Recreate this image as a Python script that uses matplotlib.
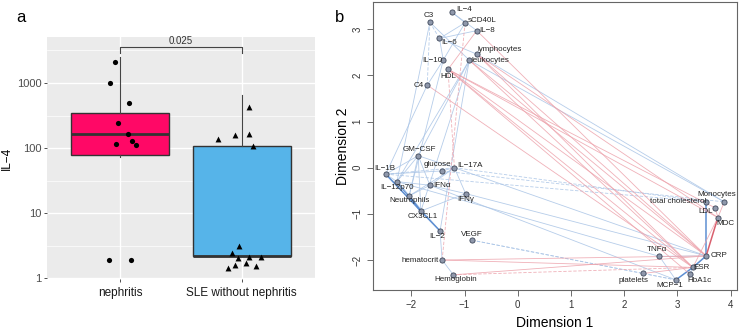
import numpy as np
import matplotlib.pyplot as plt

plt.rcParams['font.family'] = ['Liberation Sans', 'DejaVu Sans']

# ---- panel a: IL-4 box plot ----
groups = ['nephritis', 'SLE without nephritis']
neph_vals = [2128, 1014, 501, 242, 166, 118, 130, 111, 1.93, 1.93]
neph_jit = [-0.039, -0.082, 0.076, -0.016, 0.066, -0.035, 0.096, 0.129, -0.093, 0.093]
sle_vals = [136, 160, 430, 166, 107, 3.16, 2.44, 2.07, 2.17, 2.10, 1.62, 1.73, 1.46, 1.53]
sle_jit = [-0.192, -0.053, 0.062, 0.062, 0.095, -0.025, -0.082, -0.030, 0.060, 0.158,
           -0.055, 0.035, -0.110, 0.115]
box_q1 = [78, 2.22]
box_med = [168, 2.25]
box_q3 = [352, 110]
box_lo = [74, 2.22]
box_hi = [2476, 664]
box_cols = ['#FF0866', '#56B4E9']
p_value = '0.025'

# ---- panel b: MDS map of variables ----
var_names = ['IL-4', 'C3', 'sCD40L', 'IL-8', 'IL-6', 'lymphocytes', 'leukocytes', 'IL-10',
             'HDL', 'C4', 'GM-CSF', 'glucose', 'IL-17A', 'IL-1B', 'IL-12p70', 'IFNα',
             'Neutrophils', 'IFNγ', 'CX3CL1', 'IL-2', 'VEGF', 'hematocrit', 'Hemoglobin',
             'Monocytes', 'total cholesterol', 'LDL', 'MDC', 'CRP', 'TNFα', 'ESR', 'HbA1c',
             'platelets', 'MCP-1']
dim1 = [-1.24, -1.65, -0.99, -0.77, -1.47, -0.77, -0.91, -1.40, -1.31, -1.70, -1.87, -1.43,
        -1.19, -2.48, -2.27, -1.65, -2.04, -0.98, -1.82, -1.46, -0.86, -1.42, -1.21,
        3.88, 3.54, 3.71, 3.76, 3.54, 2.66, 3.29, 3.24, 2.36, 2.97]
dim2 = [3.37, 3.15, 3.14, 2.97, 2.80, 2.46, 2.33, 2.33, 2.13, 1.79, 0.26, -0.07,
        0.0, -0.14, -0.30, -0.38, -0.61, -0.56, -0.94, -1.37, -1.57, -2.00, -2.32,
        -0.74, -0.74, -0.87, -1.08, -1.91, -1.92, -2.16, -2.31, -2.29, -2.43]
disp_names = {'IL-4': 'IL−4', 'IL-8': 'IL−8', 'IL-6': 'IL−6', 'IL-10': 'IL−10',
              'IL-17A': 'IL−17A', 'IL-1B': 'IL−1B', 'IL-12p70': 'IL−12p70',
              'IL-2': 'IL−2', 'MCP-1': 'MCP−1', 'GM-CSF': 'GM−CSF'}

# positive (blue) edges: (a, b, dashed, strong)
pos_edges = [
    ('IL-4', 'sCD40L', 0, 0), ('IL-4', 'IL-8', 0, 0), ('C3', 'IL-6', 1, 0), ('C3', 'C4', 1, 0),
    ('C3', 'leukocytes', 0, 0), ('IL-6', 'IL-10', 0, 0), ('IL-6', 'sCD40L', 0, 0),
    ('IL-6', 'IL-8', 0, 0), ('IL-10', 'C4', 0, 0), ('IL-10', 'sCD40L', 0, 0),
    ('IL-6', 'lymphocytes', 0, 0), ('lymphocytes', 'Monocytes', 0, 0),
    ('leukocytes', 'Monocytes', 0, 0), ('C4', 'IL-1B', 0, 0), ('C3', 'IL-12p70', 0, 0),
    ('IL-10', 'Neutrophils', 0, 0), ('leukocytes', 'IL-12p70', 0, 0),
    ('leukocytes', 'CX3CL1', 0, 0), ('leukocytes', 'GM-CSF', 0, 0), ('leukocytes', 'IL-2', 0, 0),
    ('IL-1B', 'GM-CSF', 0, 0), ('IL-1B', 'IL-12p70', 0, 0), ('IL-1B', 'Neutrophils', 0, 0),
    ('IL-1B', 'CX3CL1', 0, 1), ('IL-1B', 'IL-17A', 1, 0), ('IL-1B', 'glucose', 0, 0),
    ('GM-CSF', 'IL-12p70', 0, 0), ('GM-CSF', 'Neutrophils', 0, 0), ('GM-CSF', 'CX3CL1', 0, 0),
    ('GM-CSF', 'IL-17A', 0, 0), ('GM-CSF', 'IFNα', 0, 0), ('glucose', 'IL-17A', 0, 0),
    ('IL-17A', 'IFNα', 0, 0), ('IL-17A', 'IFNγ', 0, 0), ('IL-17A', 'Neutrophils', 0, 0),
    ('IL-12p70', 'IFNα', 0, 0), ('IL-12p70', 'Neutrophils', 0, 0),
    ('IL-12p70', 'CX3CL1', 0, 1), ('IL-12p70', 'IL-2', 0, 0), ('Neutrophils', 'CX3CL1', 0, 1),
    ('Neutrophils', 'IFNα', 0, 0), ('CX3CL1', 'IL-2', 0, 1), ('IFNα', 'IFNγ', 0, 0),
    ('CX3CL1', 'IFNγ', 0, 0), ('hematocrit', 'Hemoglobin', 0, 0), ('IL-2', 'hematocrit', 0, 0),
    ('IL-17A', 'total cholesterol', 1, 0), ('glucose', 'Monocytes', 1, 0),
    ('IL-1B', 'total cholesterol', 1, 0), ('IFNγ', 'CRP', 0, 0), ('IL-12p70', 'TNFα', 0, 0),
    ('IFNα', 'MCP-1', 0, 0), ('VEGF', 'MCP-1', 1, 0), ('VEGF', 'platelets', 1, 0),
    ('IL-17A', 'CRP', 0, 0), ('total cholesterol', 'CRP', 0, 1), ('CRP', 'ESR', 0, 1),
    ('ESR', 'MCP-1', 0, 1), ('TNFα', 'CRP', 0, 0), ('TNFα', 'MCP-1', 0, 0),
    ('HbA1c', 'ESR', 0, 0), ('platelets', 'MCP-1', 1, 0),
]
# negative (red) edges
neg_edges = [
    ('IL-8', 'HDL', 0, 0), ('sCD40L', 'hematocrit', 1, 0), ('HDL', 'IL-17A', 1, 0),
    ('HDL', 'CRP', 0, 0), ('HDL', 'ESR', 0, 0), ('HDL', 'MDC', 0, 0), ('HDL', 'LDL', 0, 0),
    ('HDL', 'HbA1c', 0, 0), ('leukocytes', 'CRP', 0, 0), ('leukocytes', 'ESR', 0, 0),
    ('lymphocytes', 'CRP', 0, 0), ('lymphocytes', 'MDC', 0, 0), ('lymphocytes', 'ESR', 0, 0),
    ('IL-8', 'CRP', 0, 0), ('C4', 'ESR', 0, 0), ('hematocrit', 'CRP', 0, 0),
    ('hematocrit', 'ESR', 0, 0), ('Hemoglobin', 'ESR', 1, 0), ('Hemoglobin', 'CRP', 0, 0),
    ('CRP', 'MDC', 0, 1), ('MDC', 'Monocytes', 0, 0), ('LDL', 'MDC', 0, 0),
    ('MDC', 'ESR', 0, 0), ('platelets', 'ESR', 0, 0),
]

# label offsets (points) relative to node
lab_off = {
    'IL-4': (8.9, 1.7), 'C3': (-0.5, 4.8), 'sCD40L': (12.2, 1.7), 'IL-8': (7.2, 0),
    'IL-6': (7.2, -2.9), 'lymphocytes': (16.8, 3.6), 'leukocytes': (14.9, 0),
    'IL-10': (-8.2, 0), 'HDL': (0, -4.8), 'C4': (-5.8, 0), 'GM-CSF': (0.5, 4.6),
    'glucose': (-3.1, 4.8), 'IL-17A': (11.3, 1.9), 'IL-1B': (-0.7, 4.1),
    'IL-12p70': (0, -4.3), 'IFNα': (8.4, 0), 'Neutrophils': (0, -3.4), 'IFNγ': (0, -4.1),
    'CX3CL1': (1.4, -4.1), 'IL-2': (-1.9, -4.1), 'VEGF': (0, 4.3),
    'hematocrit': (-15.6, 0), 'Hemoglobin': (1.4, -3.4), 'Monocytes': (-5.5, 5.5),
    'total cholesterol': (-20.4, 0), 'LDL': (-7.2, -2.4), 'MDC': (5.3, -4.3),
    'CRP': (8.9, 0), 'TNFα': (-1.7, 5.0), 'ESR': (6.5, 0), 'HbA1c': (7, -4.3),
    'platelets': (-7.2, -5.3), 'MCP-1': (-4.1, -4.3),
}

fig = plt.figure(figsize=(7.4, 3.33), dpi=100)

# ================= panel a =================
ax = fig.add_axes([0.0635, 0.162, 0.362, 0.727])
ax.set_facecolor('#EBEBEB')
for s in ax.spines.values():
    s.set_visible(False)
ax.set_yscale('log')
ax.set_ylim(0.98, 5100)
ax.set_xlim(0.4, 2.6)

# grid like ggplot
for v in [1, 10, 100, 1000]:
    ax.axhline(v, color='white', lw=1.0, zorder=0)
for v in [10 ** 0.5, 10 ** 1.5, 10 ** 2.5, 10 ** 3.5]:
    ax.axhline(v, color='white', lw=0.5, zorder=0)
for v in [1, 2]:
    ax.axvline(v, color='white', lw=1.0, zorder=0)

stats = []
for i in range(2):
    stats.append({'med': box_med[i], 'q1': box_q1[i], 'q3': box_q3[i],
                  'whislo': box_lo[i], 'whishi': box_hi[i], 'fliers': []})
bp = ax.bxp(stats, positions=[1, 2], widths=0.8, patch_artist=True, showcaps=False,
            boxprops=dict(edgecolor='#333333', linewidth=1.0),
            medianprops=dict(color='#333333', linewidth=2.0),
            whiskerprops=dict(color='#444444', linewidth=0.8), zorder=2)
for patch, c in zip(bp['boxes'], box_cols):
    patch.set_facecolor(c)

ax.scatter(1 + np.array(neph_jit), neph_vals, s=14, color='black', marker='o', zorder=3,
           linewidths=0)
ax.scatter(2 + np.array(sle_jit), sle_vals, s=18, color='black', marker='^', zorder=3,
           linewidths=0)

# significance bracket
ax.plot([1, 1, 2, 2], [2920, 3524, 3524, 2920], color='#444444', lw=0.8)
ax.text(1.5, 3524 * 1.05, p_value, ha='center', va='bottom', fontsize=7, color='#333333')

ax.set_yticks([1, 10, 100, 1000])
ax.set_yticklabels(['1', '10', '100', '1000'])
ax.minorticks_off()
ax.set_xticks([1, 2])
ax.set_xticklabels(groups)
ax.tick_params(axis='y', labelsize=8, colors='#333333', labelcolor='#4D4D4D', length=2.5,
               width=0.6, pad=1.5)
ax.tick_params(axis='x', labelsize=8.5, colors='#333333', labelcolor='#1A1A1A', length=2.5,
               width=0.6)
ax.set_ylabel('IL−4', fontsize=8.5, labelpad=3)
fig.text(0.022, 0.935, 'a', fontsize=12)

# ================= panel b =================
bx = fig.add_axes([0.504, 0.129, 0.492, 0.865])
idx = {n: i for i, n in enumerate(var_names)}


def draw_edges(edges, col, col_strong):
    for a, b, dashed, strong in edges:
        xs = [dim1[idx[a]], dim1[idx[b]]]
        ys = [dim2[idx[a]], dim2[idx[b]]]
        ls = (0, (4, 2)) if dashed else '-'
        if strong:
            bx.plot(xs, ys, color=col_strong, lw=1.1, ls=ls, zorder=1)
        else:
            bx.plot(xs, ys, color=col, lw=0.6, ls=ls, alpha=0.85, zorder=1)


draw_edges(pos_edges, '#A9C4E6', '#5E8FD2')
draw_edges(neg_edges, '#EDA3AC', '#D9606E')

bx.scatter(dim1, dim2, s=14, facecolor='#8F98AB', edgecolor='#3D475A', linewidths=0.6,
           zorder=3)
for n in var_names:
    dx, dy = lab_off[n]
    bx.annotate(disp_names.get(n, n), (dim1[idx[n]], dim2[idx[n]]), xytext=(dx, dy),
                textcoords='offset points', ha='center', va='center', fontsize=5.8,
                color='#222222', zorder=4)

bx.set_xlim(-2.72, 4.12)
bx.set_ylim(-2.65, 3.59)
bx.set_xticks([-2, -1, 0, 1, 2, 3, 4])
bx.set_xticklabels(['−2', '−1', '0', '1', '2', '3', '4'])
bx.set_yticks([-2, -1, 0, 1, 2, 3])
bx.set_yticklabels(['−2', '−1', '0', '1', '2', '3'], rotation=90, va='center')
bx.tick_params(labelsize=7, length=4, width=0.6, colors='#555555', labelcolor='#333333')
for s in bx.spines.values():
    s.set_color('#666666')
    s.set_linewidth(0.8)
bx.set_xlabel('Dimension 1', fontsize=10, labelpad=4)
bx.set_ylabel('Dimension 2', fontsize=10, labelpad=2)
fig.text(0.452, 0.935, 'b', fontsize=12)

fig.savefig('out.png', dpi=100)
